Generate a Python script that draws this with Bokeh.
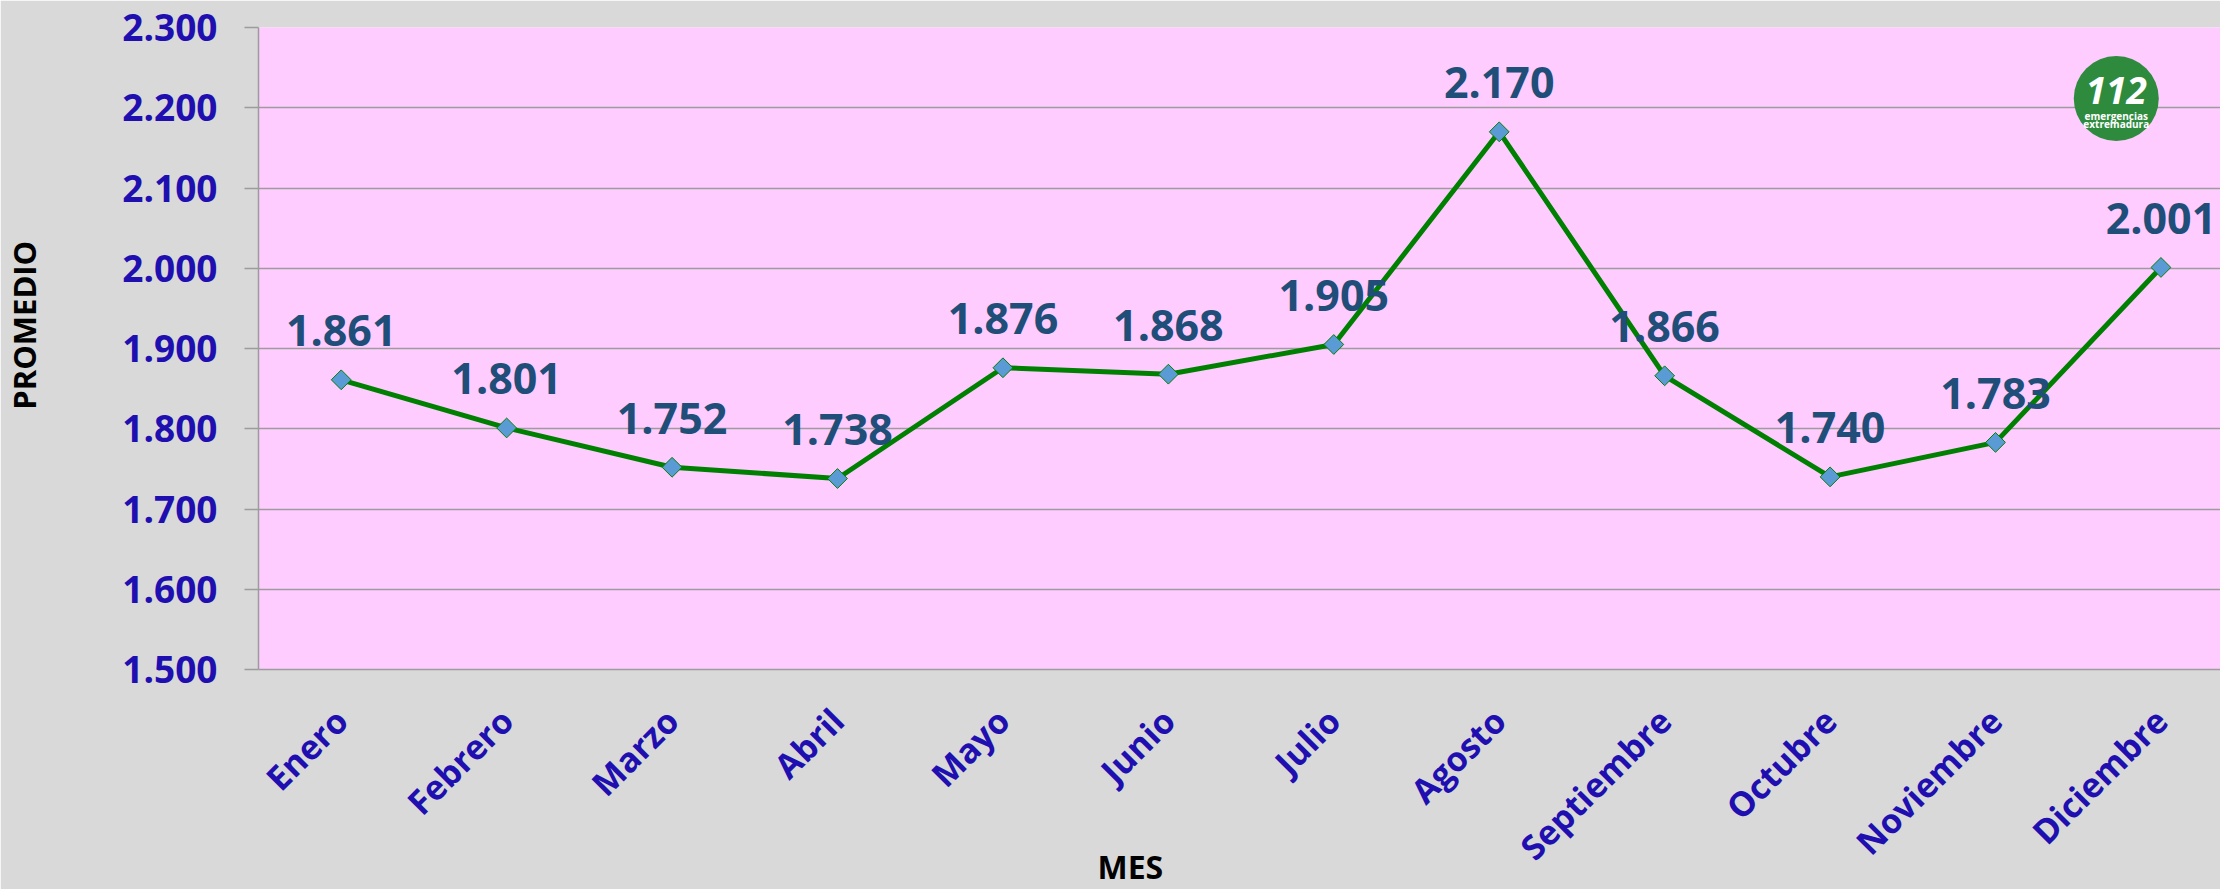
import math
from bokeh.plotting import figure
from bokeh.models import FixedTicker, Range1d, Title, ColumnDataSource
from bokeh.core.properties import value
from bokeh.embed import file_html
from bokeh.resources import INLINE

months = ["Enero", "Febrero", "Marzo", "Abril", "Mayo", "Junio", "Julio",
          "Agosto", "Septiembre", "Octubre", "Noviembre", "Diciembre"]
promedio = [1861, 1801, 1752, 1738, 1876, 1868, 1905, 2170, 1866, 1740, 1783, 2001]
y_ticks = [1500, 1600, 1700, 1800, 1900, 2000, 2100, 2200, 2300]

def fmt(v):
    return f"{v:,}".replace(",", ".")

FONT = "Open Sans"
BLUE = "#200fb0"
LBL = "#1f4e79"
GRID = "#9c9c9c"

src = ColumnDataSource(dict(
    x=list(range(len(months))),
    y=promedio,
    label=[fmt(v) for v in promedio],
))

p = figure(width=2220, height=889, output_backend="svg", toolbar_location=None,
           x_range=Range1d(-0.5, 11.36), y_range=Range1d(1500, 2300),
           min_border_left=258, min_border_right=0, min_border_top=27,
           min_border_bottom=220)
p.background_fill_color = "#ffccff"
p.border_fill_color = "#d9d9d9"
p.outline_line_color = None

# grid
p.xgrid.grid_line_color = None
p.ygrid.ticker = FixedTicker(ticks=y_ticks)
p.ygrid.grid_line_color = GRID
p.ygrid.grid_line_width = 1.5

# y axis
p.yaxis.ticker = FixedTicker(ticks=y_ticks)
p.yaxis.major_label_overrides = {t: fmt(t) for t in y_ticks}
p.yaxis.major_label_text_font = FONT
p.yaxis.major_label_text_font_style = "bold"
p.yaxis.major_label_text_font_size = "37px"
p.yaxis.major_label_text_color = BLUE
p.yaxis.major_tick_out = 14
p.yaxis.major_tick_in = 0
p.yaxis.minor_tick_line_color = None
p.yaxis.major_label_standoff = 27
p.yaxis.axis_line_color = GRID
p.yaxis.axis_line_width = 1.5
p.yaxis.major_tick_line_color = GRID
p.yaxis.major_tick_line_width = 1.5
p.yaxis.axis_label = "\u2003\u2002PROMEDIO"
p.yaxis.axis_label_text_font = FONT
p.yaxis.axis_label_text_font_style = "bold"
p.yaxis.axis_label_text_font_size = "31px"
p.yaxis.axis_label_text_color = "black"
p.yaxis.axis_label_standoff = 74

# x axis
p.xaxis.ticker = FixedTicker(ticks=list(range(len(months))))
p.xaxis.major_label_overrides = {i: m for i, m in enumerate(months)}
p.xaxis.major_label_orientation = math.pi / 4
p.xaxis.major_label_text_font = FONT
p.xaxis.major_label_text_font_style = "bold"
p.xaxis.major_label_text_font_size = "34px"
p.xaxis.major_label_text_color = BLUE
p.xaxis.major_tick_out = 0
p.xaxis.major_tick_in = 0
p.xaxis.minor_tick_line_color = None
p.xaxis.major_label_standoff = 45
p.xaxis.axis_line_color = GRID
p.xaxis.axis_line_width = 1.5

# series
p.line("x", "y", source=src, line_color="#008000", line_width=5)
p.scatter("x", "y", source=src, marker="square", angle=math.pi / 4, size=14,
          fill_color="#5b9bd5", line_color="#008000", line_width=1)
p.text("x", "y", text="label", source=src, y_offset=-49,
       text_align="center", text_baseline="alphabetic",
       text_font=value(FONT), text_font_style="bold",
       text_font_size="43px", text_color=LBL)

# logo (decoration)
p.scatter(x=[10.73], y=[2211.5], marker="circle", size=85,
          fill_color="#2e8b3e", line_color=None)
p.text(x=[10.73], y=[2221], text=["112"], text_align="center",
       text_baseline="middle", text_font=value(FONT),
       text_font_style="bold italic", text_font_size="37px", text_color="white")
p.text(x=[10.73, 10.73], y=[2190, 2180], text=["emergencias", "extremadura"],
       text_align="center", text_baseline="middle", text_font=value(FONT),
       text_font_style="bold", text_font_size="10px", text_color="white")

# x title
p.add_layout(Title(text="MES", align="left", offset=839, standoff=-88,
                   vertical_align="top",
                   text_font=FONT, text_font_style="bold",
                   text_font_size="32px", text_color="black"), "below")

open("out.html", "w").write(file_html(p, INLINE))
